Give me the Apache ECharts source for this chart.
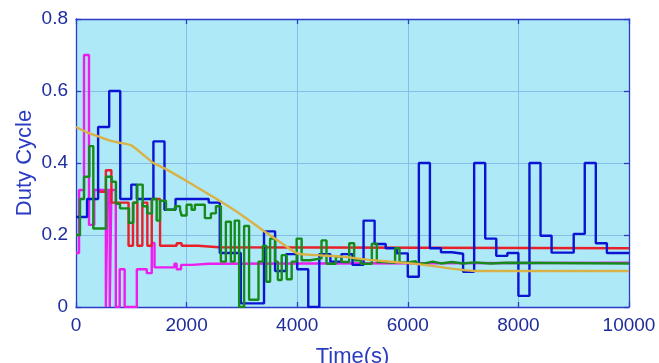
<!DOCTYPE html>
<html>
<head>
<meta charset="utf-8">
<script src="https://cdn.jsdelivr.net/npm/echarts@6/dist/echarts.min.js"></script>
<style>
  html, body { margin: 0; padding: 0; background: #ffffff; }
  #chart { width: 659px; height: 363px; }
</style>
</head>
<body>
<div id="chart"></div>
<script>
// Axis ticks
const timeTicks = [0, 2000, 4000, 6000, 8000, 10000];
const dutyTicks = [0, 0.2, 0.4, 0.6, 0.8];

// Duty cycle per controller: [start time (s), duty held until the next entry]
const blueDuty = [
  [0, 0.25], [200, 0.30], [400, 0.50], [600, 0.60], [800, 0.30], [1000, 0.34],
  [1100, 0.30], [1400, 0.46], [1600, 0.27], [1800, 0.30], [2400, 0.29],
  [2600, 0.15], [2980, 0.01], [3400, 0.21], [3600, 0.10], [3800, 0.147],
  [4000, 0.105], [4200, 0], [4400, 0.147], [4600, 0.126], [4800, 0.147],
  [5000, 0.117], [5200, 0.24], [5400, 0.175], [5600, 0.163], [5800, 0.149],
  [6000, 0.084], [6200, 0.40], [6400, 0.163], [6600, 0.152], [6800, 0.148],
  [7000, 0.098], [7200, 0.40], [7400, 0.19], [7600, 0.142], [7800, 0.15],
  [8000, 0.031], [8200, 0.40], [8400, 0.198], [8600, 0.151], [9000, 0.203],
  [9200, 0.40], [9400, 0.177], [9600, 0.15], [10000, 0.15]
];

const redDuty = [
  [420, 0.32], [540, 0.38], [640, 0.29], [950, 0.17], [1030, 0.29], [1110, 0.17],
  [1200, 0.29], [1290, 0.17], [1370, 0.30], [1520, 0.17], [1820, 0.177],
  [1910, 0.17], [2210, 0.166], [2580, 0.163], [10000, 0.163]
];

const magentaDuty = [
  [0, 0.15], [55, 0.325], [145, 0.70], [235, 0.228], [330, 0.325], [540, 0],
  [570, 0.325], [610, 0], [640, 0.325], [720, 0], [790, 0.105], [880, 0],
  [1100, 0.105], [1280, 0.094], [1370, 0.178], [1420, 0.11], [1780, 0.12],
  [1820, 0.105], [1900, 0.117], [2100, 0.12], [2400, 0.123], [10000, 0.123]
];

const greenDuty = [
  [0, 0.20], [72, 0.30], [145, 0.362], [241, 0.447], [313, 0.218], [542, 0.362],
  [645, 0.348], [723, 0.287], [796, 0.274], [958, 0.234], [1037, 0.29],
  [1109, 0.34], [1206, 0.28], [1290, 0.26], [1374, 0.30], [1459, 0.24],
  [1519, 0.295], [1627, 0.27], [1790, 0.28], [1881, 0.27], [1910, 0.254],
  [2000, 0.284], [2090, 0.27], [2150, 0.284], [2330, 0.247], [2440, 0.26],
  [2530, 0.28], [2620, 0.126], [2710, 0.237], [2800, 0.126], [2870, 0.24],
  [2950, 0], [3040, 0.225], [3130, 0.02], [3300, 0.126], [3380, 0.17],
  [3440, 0.07], [3510, 0.19], [3600, 0.126], [3650, 0.075], [3720, 0.144],
  [3810, 0.077], [3900, 0.126], [3990, 0.19], [4080, 0.13], [4230, 0.135],
  [4440, 0.185], [4530, 0.12], [4700, 0.14], [4800, 0.125], [4940, 0.177],
  [5030, 0.13], [5150, 0.12], [5350, 0.176], [5440, 0.125], [5550, 0.123],
  [5770, 0.163], [5850, 0.124], [6000, 0.127], [6150, 0.121], [6300, 0.126],
  [6450, 0.121], [6600, 0.125], [6800, 0.121], [7000, 0.124], [7200, 0.121],
  [7500, 0.123], [7800, 0.121], [10000, 0.121]
];

// Reference duty trajectory (smooth)
const yellowDuty = [
  [0, 0.50], [200, 0.485], [400, 0.474], [600, 0.463], [800, 0.456], [1000, 0.449],
  [1200, 0.425], [1400, 0.40], [1600, 0.385], [2000, 0.35], [2573, 0.297],
  [3000, 0.255], [3418, 0.209], [3720, 0.177], [4000, 0.149], [4350, 0.144],
  [4800, 0.14], [5300, 0.131], [6000, 0.122], [6400, 0.115], [7200, 0.10],
  [10000, 0.10]
];

const axisBlue = '#2B3CC6';
const labelBlue = '#1E2C9C';
const gridBlue = '#84BCEA';
const font = "'Liberation Sans', Arial, sans-serif";

function frameAxis(extra) {
  return Object.assign({
    type: 'value',
    axisLine: { show: true, onZero: false, lineStyle: { color: axisBlue, width: 1.3 } },
    axisTick: { show: true, inside: true, length: 5, lineStyle: { color: axisBlue, width: 1.3 } },
    axisLabel: { show: false },
    splitLine: { show: false }
  }, extra);
}

function stepSeries(name, data, color) {
  return {
    name, type: 'line', step: 'end', data,
    showSymbol: false, symbol: 'none', animation: false,
    lineStyle: { color, width: 2.4 }, clip: true
  };
}

const chart = echarts.init(document.getElementById('chart'), null, { renderer: 'canvas' });
chart.setOption({
  animation: false,
  backgroundColor: '#ffffff',
  grid: {
    left: 76, right: 30, top: 19, bottom: 56, containLabel: false, outerBoundsMode: 'none',
    show: true, backgroundColor: '#AEE9F8', borderWidth: 0
  },
  xAxis: [
    frameAxis({
      position: 'bottom', min: timeTicks[0], max: timeTicks[timeTicks.length - 1], interval: 2000,
      name: 'Time(s)', nameLocation: 'middle', nameGap: 39, nameMoveOverlap: false,
      nameTextStyle: { color: '#2A3DC2', fontSize: 22, fontFamily: font },
      axisLabel: { show: true, margin: 9, color: labelBlue, fontSize: 19, fontFamily: font,
        formatter: v => String(v) },
      splitLine: { show: true, lineStyle: { color: gridBlue, width: 1 } }
    }),
    frameAxis({ position: 'top', min: 0, max: 10000, interval: 2000 })
  ],
  yAxis: [
    frameAxis({
      position: 'left', min: dutyTicks[0], max: dutyTicks[dutyTicks.length - 1], interval: 0.2,
      name: 'Duty Cycle', nameLocation: 'middle', nameGap: 40, nameMoveOverlap: false,
      nameTextStyle: { color: '#2A3DC2', fontSize: 22, fontFamily: font },
      axisLabel: { show: true, margin: 8, color: labelBlue, fontSize: 19, fontFamily: font,
        formatter: v => (v === 0 ? '0' : String(+v.toFixed(1))) },
      splitLine: { show: true, lineStyle: { color: gridBlue, width: 1 } }
    }),
    frameAxis({ position: 'right', min: 0, max: 0.8, interval: 0.2 })
  ],
  series: [
    stepSeries('magenta', magentaDuty, '#EC1EEC'),
    stepSeries('red', redDuty, '#E8202A'),
    stepSeries('blue', blueDuty, '#0A14D2'),
    stepSeries('green', greenDuty, '#178A1C'),
    {
      name: 'reference', type: 'line', data: yellowDuty, showSymbol: false, symbol: 'none',
      smooth: 0.2, lineStyle: { color: '#D9B247', width: 2.4 }, animation: false
    }
  ]
});
</script>
</body>
</html>
